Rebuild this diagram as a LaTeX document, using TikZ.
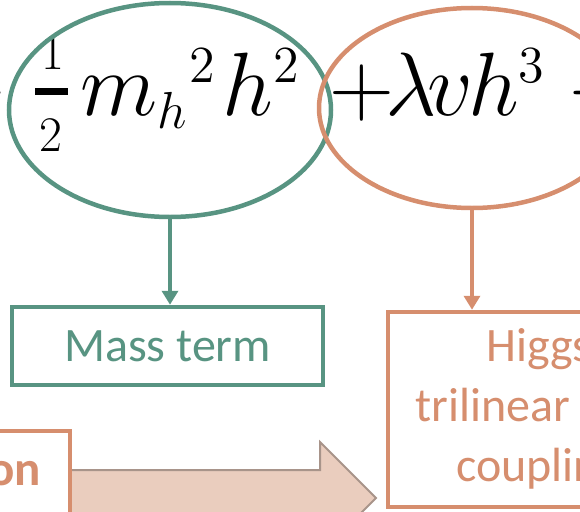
\documentclass[tikz,border=0pt]{standalone}
\usepackage{fontspec}
\newfontfamily\calibri{Carlito}
\usetikzlibrary{shapes.geometric,arrows.meta}
\DeclareMathSizes{20.74}{20.74}{12}{10}
\definecolor{tealc}{RGB}{88,148,130}
\definecolor{orangec}{RGB}{214,142,110}
\definecolor{arrowfill}{RGB}{234,205,190}
\definecolor{arrowline}{RGB}{168,148,138}
\tikzset{
  ring/.style={ellipse, draw, line width=4.5pt, inner sep=0pt},
  termbox/.style={rectangle, draw, line width=4.5pt, fill=white, inner sep=0pt, align=center,
     font=\calibri\fontsize{48}{60}\selectfont},
  link/.style={line width=4pt, -{Triangle[width=16pt,length=14pt]}},
  eq/.style={inner sep=0pt, font=\fontsize{20.74}{25}\selectfont, scale=4.34, transform shape},
  eqfrac/.style={inner sep=0pt, font=\fontsize{20.74}{25}\selectfont, scale=2.4, transform shape},
  bigarrow/.style={fill=arrowfill, draw=arrowline, line width=2pt, line join=miter}
}
\begin{document}
\begin{tikzpicture}[x=1pt,y=-1pt]
\useasboundingbox (0,0) rectangle (580,511);
\clip (0,0) rectangle (580,511);
% equation
\node[eq, anchor=base east] (mn1) at (9,115) {$-$};
\node[eqfrac, anchor=base] (num) at (52.5,70) {$1$};
\node[eqfrac, anchor=base] (den) at (51,151) {$2$};
\draw[line width=6.5pt] (35,91.5) -- (68,91.5);
\node[eq, anchor=base west] (mh) at (80,115) {$m_h{}^2$};
\node[eq, anchor=base west] (hh) at (222,115) {$h^2$};
\node[eq, anchor=base west] (pl) at (329,115) {$+$};
\node[eq, anchor=base west] (lv) at (385,115) {$\lambda\mkern-2mu v\mkern-1mu h^3$};
\node[eq, anchor=base west] (mn2) at (566,115) {$-$};
\node[eqfrac, anchor=base] (top2) at (567,1) {$2$};
% ellipses
\node[ring, draw=tealc, minimum width=322pt, minimum height=214pt] (e1) at (170,110) {};
\node[ring, draw=orangec, minimum width=306pt, minimum height=200pt] (e2) at (472,108) {};
% boxes
\node[termbox, draw=tealc, text=tealc, minimum width=311pt, minimum height=78pt] (mass) at (167.5,346) {Mass term};
\node[termbox, draw=orangec, text=orangec, minimum width=302pt, minimum height=195pt] (trb) at (539,409.5)
  {Higgs\\trilinear\phantom{ self-}\\coupling};
% connectors
\draw[link, draw=tealc, fill=tealc] (e1.south) -- (e1.south |- mass.north);
\draw[link, draw=orangec, fill=orangec] (e2.south) -- (e2.south |- trb.north);
% big arrow
\draw[bigarrow] (60,470) -- (320,470) -- (320,442) -- (376,498) -- (320,554) -- (320,526) -- (60,526) -- cycle;
% bottom-left box
\node[termbox, draw=orangec, minimum width=370pt, minimum height=190pt] (prod) at (-115,526) {};
\node[inner sep=0pt, anchor=base east, text=orangec, font=\calibri\bfseries\fontsize{49}{60}\selectfont] (on) at (41,485) {on};
\end{tikzpicture}
\end{document}
